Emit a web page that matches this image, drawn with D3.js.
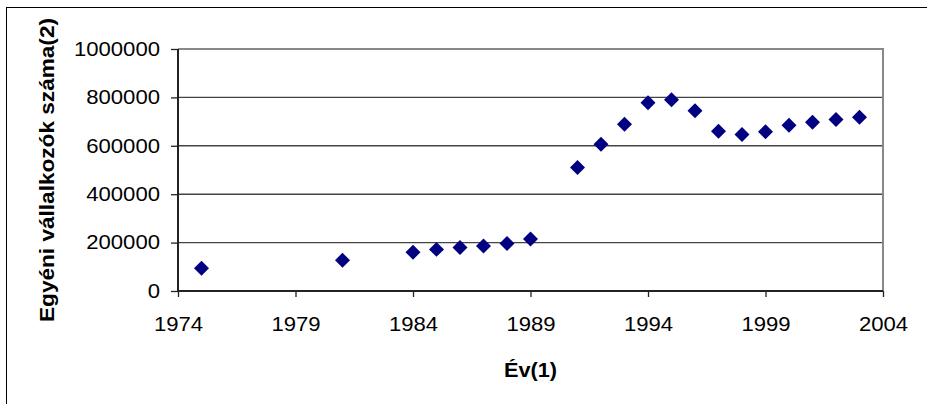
<!DOCTYPE html>
<html>
<head>
<meta charset="utf-8">
<script src="https://cdn.jsdelivr.net/npm/d3@7"></script>
<style>
  html, body { margin: 0; padding: 0; background: #fff; }
  svg { display: block; font-family: "Liberation Sans", Arial, sans-serif; }
</style>
</head>
<body>
<svg id="chart" width="927" height="404"></svg>
<script>
// Egyéni vállalkozók száma évenként
const years = [1975, 1981, 1984, 1985, 1986, 1987, 1988, 1989, 1991, 1992, 1993, 1994, 1995, 1996, 1997, 1998, 1999, 2000, 2001, 2002, 2003];
const counts = [94000, 127000, 160000, 172000, 180000, 186000, 196000, 215000, 510000, 606000, 689000, 778000, 790000, 745000, 660000, 647000, 658000, 685000, 697000, 709000, 718000];

const xTicks = [1974, 1979, 1984, 1989, 1994, 1999, 2004];
const yTicks = [0, 200000, 400000, 600000, 800000, 1000000];

const xLabel = "Év(1)";
const yLabel = "Egyéni vállalkozók száma(2)";

const svg = d3.select("#chart");

// the original picture is a bit stretched sideways, so text gets a fixed length
const digitW = 12.3;

// outer chart frame (right and bottom edges fall outside the picture)
svg.append("rect")
    .attr("x", 6.5)
    .attr("y", 7.5)
    .attr("width", 940)
    .attr("height", 420)
    .attr("fill", "none")
    .attr("stroke", "#000")
    .attr("stroke-width", 1);

const plot = { left: 178, right: 883, top: 49, bottom: 291 };

const x = d3.scaleLinear().domain([1974, 2004]).range([plot.left, plot.right]);
const y = d3.scaleLinear().domain([0, 1000000]).range([plot.bottom, plot.top]);

// gridlines
svg.append("g")
    .selectAll("line")
    .data(yTicks.filter(d => d > 0 && d < 1000000))
    .join("line")
    .attr("x1", plot.left)
    .attr("x2", plot.right)
    .attr("y1", d => y(d))
    .attr("y2", d => y(d))
    .attr("stroke", "#444")
    .attr("stroke-width", 1.4);

// plot area border (top + right, grey)
svg.append("path")
    .attr("d", `M${plot.left},${plot.top}H${plot.right}V${plot.bottom}`)
    .attr("fill", "none")
    .attr("stroke", "#888")
    .attr("stroke-width", 2);

// y axis
const yAxis = svg.append("g")
    .attr("transform", `translate(${plot.left},0)`)
    .call(d3.axisLeft(y).tickValues(yTicks).tickFormat(d3.format("d")).tickSize(7).tickPadding(11));
yAxis.select(".domain").remove();
yAxis.selectAll(".tick line").attr("stroke", "#222").attr("stroke-width", 1.3);
yAxis.selectAll("text")
    .attr("font-size", "19.5px")
    .attr("fill", "#000")
    .attr("textLength", d => String(d).length * digitW)
    .attr("lengthAdjust", "spacingAndGlyphs");

// x axis
const xAxis = svg.append("g")
    .attr("transform", `translate(0,${plot.bottom})`)
    .call(d3.axisBottom(x).tickValues(xTicks).tickFormat(d3.format("d")).tickSize(6).tickPadding(20));
xAxis.select(".domain").remove();
xAxis.selectAll(".tick line").attr("stroke", "#222").attr("stroke-width", 1.3);
xAxis.selectAll("text")
    .attr("font-size", "19.5px")
    .attr("fill", "#000")
    .attr("textLength", d => String(d).length * digitW)
    .attr("lengthAdjust", "spacingAndGlyphs");

// axis lines
svg.append("path")
    .attr("d", `M${plot.left},${plot.top}V${plot.bottom}H${plot.right}`)
    .attr("fill", "none")
    .attr("stroke", "#222")
    .attr("stroke-width", 2);

// markers
const points = years.map((yr, i) => ({ year: yr, value: counts[i] }));
svg.append("g")
    .selectAll("path")
    .data(points)
    .join("path")
    .attr("d", d3.symbol(d3.symbolSquare).size(112))
    .attr("transform", d => `translate(${x(d.year)},${y(d.value)}) rotate(45)`)
    .attr("fill", "#000080");

// axis titles
svg.append("text")
    .attr("x", (plot.left + plot.right) / 2)
    .attr("y", 377)
    .attr("text-anchor", "middle")
    .attr("font-size", "20px")
    .attr("font-weight", "bold")
    .attr("textLength", 53)
    .attr("lengthAdjust", "spacingAndGlyphs")
    .text(xLabel);

svg.append("text")
    .attr("transform", `translate(54,170) rotate(-90)`)
    .attr("text-anchor", "middle")
    .attr("font-size", "20px")
    .attr("font-weight", "bold")
    .attr("textLength", 304)
    .attr("lengthAdjust", "spacingAndGlyphs")
    .text(yLabel);
</script>
</body>
</html>
